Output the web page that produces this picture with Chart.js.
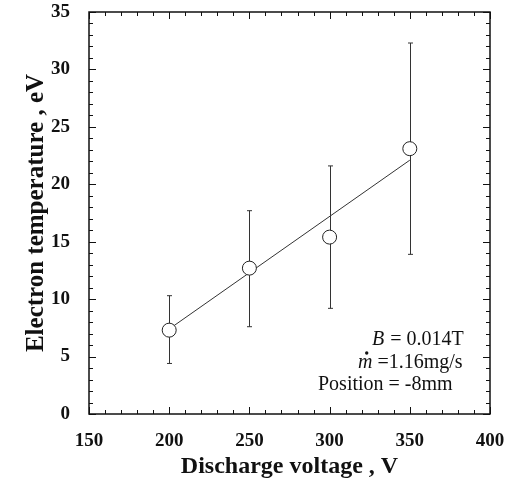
<!DOCTYPE html>
<html>
<head>
<meta charset="utf-8">
<script src="https://cdn.jsdelivr.net/npm/chart.js@4"></script>
<style>
  html, body { margin: 0; padding: 0; background: #fff; }
  #wrap { width: 517px; height: 488px; }
</style>
</head>
<body>
<div id="wrap"><canvas id="chart"></canvas></div>
<script>
// データ
const voltages = [200, 250, 300, 350];
const temperatures = [7.3, 12.7, 15.4, 23.1];
const errLow = [4.4, 7.6, 9.2, 13.9];
const errHigh = [10.3, 17.7, 21.6, 32.3];
const fitX = [200, 350];
const fitY = [7.4, 22.1];

const SERIF = "'Liberation Serif', 'Times New Roman', serif";
const INK = '#222';

/**
 * エラーバーの描画
 */
const errorBarPlugin = {
    id: 'errorBars',
    beforeDatasetsDraw(chart) {
        const { ctx, scales: { x, y } } = chart;
        ctx.save();
        ctx.strokeStyle = '#333';
        ctx.lineWidth = 1;
        voltages.forEach((v, i) => {
            const px = Math.round(x.getPixelForValue(v)) + 0.5;
            const top = y.getPixelForValue(errHigh[i]);
            const bot = y.getPixelForValue(errLow[i]);
            ctx.beginPath();
            ctx.moveTo(px, top);
            ctx.lineTo(px, bot);
            ctx.moveTo(px - 2.5, top);
            ctx.lineTo(px + 2.5, top);
            ctx.moveTo(px - 2.5, bot);
            ctx.lineTo(px + 2.5, bot);
            ctx.stroke();
        });
        ctx.restore();
    }
};

/**
 * 枠と内向きの目盛り
 */
const framePlugin = {
    id: 'frame',
    afterDraw(chart) {
        const { ctx, chartArea: a, scales: { x, y } } = chart;
        ctx.save();
        ctx.strokeStyle = '#111';
        ctx.lineWidth = 1;
        // x方向の目盛り（10Vごと、50Vで長く）
        for (let v = x.min; v <= x.max; v += 10) {
            const px = Math.round(x.getPixelForValue(v)) + 0.5;
            const len = v % 50 === 0 ? 7 : 4;
            ctx.beginPath();
            ctx.moveTo(px, a.bottom);
            ctx.lineTo(px, a.bottom - len);
            ctx.moveTo(px, a.top);
            ctx.lineTo(px, a.top + len);
            ctx.stroke();
        }
        // y方向の目盛り（1ごと、5で長く）
        for (let v = y.min; v <= y.max; v += 1) {
            const py = Math.round(y.getPixelForValue(v)) + 0.5;
            const len = v % 5 === 0 ? 7 : 4;
            ctx.beginPath();
            ctx.moveTo(a.left, py);
            ctx.lineTo(a.left + len, py);
            ctx.moveTo(a.right, py);
            ctx.lineTo(a.right - len, py);
            ctx.stroke();
        }
        ctx.lineWidth = 1.5;
        ctx.strokeRect(a.left, a.top, a.right - a.left, a.bottom - a.top);

        // 条件の注記
        ctx.fillStyle = '#111';
        ctx.textBaseline = 'alphabetic';
        ctx.font = `italic 20px ${SERIF}`;
        let bx = a.right - 118, by = a.bottom - 69;
        ctx.fillText('B', bx, by);
        ctx.font = `20px ${SERIF}`;
        ctx.fillText(' = 0.014T', bx + ctx.measureText('B').width, by);

        ctx.font = `italic 20px ${SERIF}`;
        let mx = a.right - 132, my = a.bottom - 46;
        ctx.fillText('m', mx, my);
        const mw = ctx.measureText('m').width;
        ctx.beginPath();
        ctx.arc(mx + mw / 2 + 1.5, my - 15, 1.7, 0, Math.PI * 2);
        ctx.fill();
        ctx.font = `20px ${SERIF}`;
        ctx.fillText(' =1.16mg/s', mx + mw, my);

        ctx.fillText('Position = -8mm', a.right - 172, a.bottom - 24);
        ctx.restore();
    }
};

const ctx = document.getElementById('chart').getContext('2d');
new Chart(ctx, {
    type: 'scatter',
    data: {
        datasets: [
            {
                data: voltages.map((v, i) => ({ x: v, y: temperatures[i] })),
                pointRadius: 7,
                pointHoverRadius: 7,
                pointBackgroundColor: '#fff',
                pointBorderColor: INK,
                pointBorderWidth: 1,
                order: 1
            },
            {
                type: 'line',
                data: fitX.map((v, i) => ({ x: v, y: fitY[i] })),
                borderColor: '#333',
                borderWidth: 1,
                pointRadius: 0,
                fill: false,
                order: 2
            }
        ]
    },
    options: {
        responsive: true,
        maintainAspectRatio: false,
        animation: false,
        layout: { padding: { top: 12, right: 27, left: 0, bottom: 0 } },
        plugins: {
            legend: { display: false },
            tooltip: { enabled: false }
        },
        scales: {
            x: {
                type: 'linear',
                min: 150,
                max: 400,
                grid: { display: false, drawTicks: false },
                border: { display: false },
                ticks: {
                    stepSize: 50,
                    padding: 16,
                    color: '#111',
                    font: { family: SERIF, size: 19, weight: 'bold' }
                },
                title: {
                    display: true,
                    text: 'Discharge voltage , V',
                    color: '#111',
                    padding: { top: 0, bottom: 7 },
                    font: { family: SERIF, size: 24, weight: 'bold' }
                },
                afterFit(scale) {
                    scale.height = 74;
                    scale.paddingLeft = 0;
                    scale.paddingRight = 0;
                }
            },
            y: {
                min: 0,
                max: 35,
                grid: { display: false, drawTicks: false },
                border: { display: false },
                ticks: {
                    stepSize: 5,
                    padding: 19,
                    color: '#111',
                    font: { family: SERIF, size: 19, weight: 'bold' }
                },
                title: {
                    display: true,
                    text: 'Electron temperature , eV',
                    color: '#111',
                    padding: { top: 22, bottom: 0 },
                    font: { family: SERIF, size: 25, weight: 'bold' }
                },
                afterFit(scale) {
                    scale.width = 89;
                    scale.paddingTop = 0;
                    scale.paddingBottom = 0;
                }
            }
        }
    },
    plugins: [errorBarPlugin, framePlugin]
});
</script>
</body>
</html>
